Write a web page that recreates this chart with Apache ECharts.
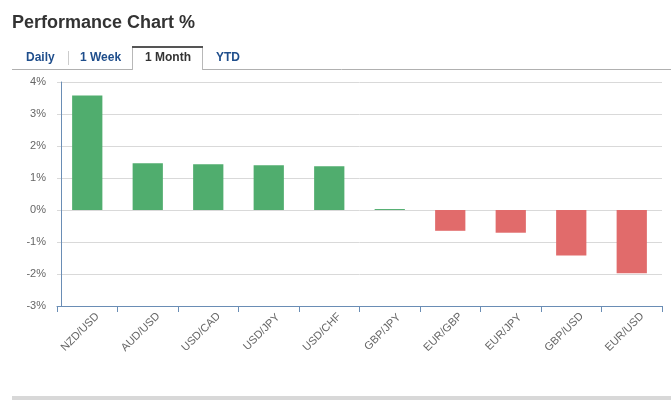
<!DOCTYPE html>
<html><head><meta charset="utf-8">
<script src="https://cdn.jsdelivr.net/npm/echarts@6/dist/echarts.min.js"></script>
<style>html,body{margin:0;padding:0;background:#fff;}#c{width:671px;height:400px;}</style>
</head><body><div id="c"></div>
<script>
const categories = ['NZD/USD','AUD/USD','USD/CAD','USD/JPY','USD/CHF','GBP/JPY','EUR/GBP','EUR/JPY','GBP/USD','EUR/USD'];
const values = [3.58, 1.46, 1.43, 1.40, 1.37, 0.03, -0.65, -0.71, -1.42, -1.98];
const yTicks = [-3,-2,-1,0,1,2,3,4];
const tabs = ['Daily','1 Week','1 Month','YTD'];
const title = 'Performance Chart %';

const FONT = '"Liberation Sans", Arial, sans-serif';
const chart = echarts.init(document.getElementById('c'));
chart.setOption({
  animation: false,
  textStyle: {fontFamily: FONT},
  grid: {left: 57, right: 9, top: 82, bottom: 94},
  graphic: [
    {type:'text', left: 12, top: 14, style:{text: title, font:'bold 18px "Liberation Sans", Arial, sans-serif', fill:'#333'}},
    {type:'line', shape:{x1:12,y1:69.5,x2:671,y2:69.5}, style:{stroke:'#b0b0b0', lineWidth:1}},
    {type:'rect', shape:{x:133,y:47,width:69,height:23}, style:{fill:'#fff'}},
    {type:'polyline', shape:{points:[[132.5,70],[132.5,47],[202.5,47],[202.5,70]]}, style:{stroke:'#b8b8b8', lineWidth:1, fill:null}},
    {type:'line', shape:{x1:132,y1:47,x2:203,y2:47}, style:{stroke:'#555', lineWidth:2}},
    {type:'line', shape:{x1:68.5,y1:51,x2:68.5,y2:65}, style:{stroke:'#ccc', lineWidth:1}},
    {type:'text', x: 26, y: 58, style:{text: tabs[0], font:'bold 12px "Liberation Sans", Arial, sans-serif', fill:'#1f4e8c', verticalAlign:'middle'}},
    {type:'text', x: 80, y: 58, style:{text: tabs[1], font:'bold 12px "Liberation Sans", Arial, sans-serif', fill:'#1f4e8c', verticalAlign:'middle'}},
    {type:'text', x: 145, y: 58, style:{text: tabs[2], font:'bold 12px "Liberation Sans", Arial, sans-serif', fill:'#333', verticalAlign:'middle'}},
    {type:'text', x: 216, y: 58, style:{text: tabs[3], font:'bold 12px "Liberation Sans", Arial, sans-serif', fill:'#1f4e8c', verticalAlign:'middle'}},
    {type:'rect', shape:{x:12,y:396,width:659,height:4}, style:{fill:'#d8d8d8'}}
  ],
  xAxis: {
    type:'category', data: categories,
    position:'bottom',
    axisLine:{onZero:false, lineStyle:{color:'#6a8db5', width:1}},
    axisTick:{show:true, alignWithLabel:false, length:6, lineStyle:{color:'#6a8db5'}},
    axisLabel:{rotate:45, align:'center', verticalAlign:'middle', padding:[0,20,0,0], color:'#666', fontSize:11, fontFamily:FONT, margin:19, interval:0},
    splitLine:{show:false}
  },
  yAxis: {
    type:'value', min: yTicks[0], max: yTicks[yTicks.length-1], interval: 1,
    offset: -4,
    axisLine:{show:true, lineStyle:{color:'#6a8db5', width:1}},
    axisTick:{show:false},
    axisLabel:{color:'#666', fontSize:11, fontFamily:FONT, margin:15, formatter: v => v + '%'},
    splitLine:{lineStyle:{color:'#d9d9d9', width:1}}
  },
  series: [{
    type:'bar', barWidth:'50%',
    data: values.map(v => ({value:v, itemStyle:{color: v >= 0 ? '#50ad6e' : '#e16b6b'}}))
  }]
});
</script></body></html>
